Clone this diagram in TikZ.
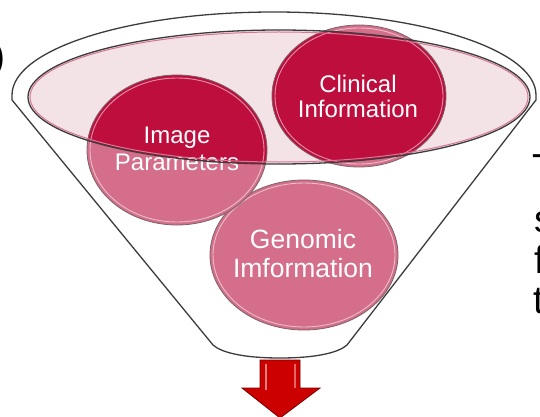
\documentclass[tikz,border=0pt]{standalone}
\usepackage{fontspec}
\setmainfont{Liberation Sans}
\definecolor{funnelline}{RGB}{60,60,60}
\definecolor{crimson}{RGB}{190,14,62}
\definecolor{rosepink}{RGB}{212,110,138}
\definecolor{palepink}{RGB}{243,226,230}
\definecolor{rimpink}{RGB}{214,120,146}
\definecolor{circleedge}{RGB}{120,100,105}
\definecolor{arrowred}{RGB}{205,0,0}
\definecolor{arrowdark}{RGB}{120,0,0}
\begin{document}
\begin{tikzpicture}[x=1pt,y=-1pt,
  rim/.style={draw=funnelline,line width=1.3pt,line join=round},
  bubbleedge/.style={draw=circleedge,line width=0.8pt},
  gloss/.style={draw=white,opacity=0.55,line width=0.9pt},
  bubbletext/.style={align=center,text=white,inner sep=0pt},
  edgetext/.style={inner sep=0pt,text=black,font=\fontsize{39}{41}\selectfont}]
\useasboundingbox (0,0) rectangle (540,417);

% funnel body with its rim
\draw[rim,fill=white] (12,100) -- (213,345)
  .. controls (222,353) and (245,358) .. (280,358)
  .. controls (315,358) and (338,353) .. (347,345)
  -- (536,100) -- (536,95)
  arc[start angle=0,end angle=180,x radius=262pt,y radius=83pt] -- cycle;

% mouth of the funnel
\fill[palepink] (279,97) ellipse[x radius=251pt,y radius=67pt];

% genomic bubble
\fill[rosepink] (304,255) ellipse[x radius=94pt,y radius=75pt];
\draw[bubbleedge] (304,255) ellipse[x radius=94pt,y radius=75pt];
\draw[gloss] (304,255) ellipse[x radius=91pt,y radius=72pt];

% image bubble
\fill[rosepink] (177,150) ellipse[x radius=90pt,y radius=75pt];
\begin{scope}
  \clip (279,97) ellipse[x radius=251pt,y radius=67pt];
  \fill[crimson] (177,150) ellipse[x radius=90pt,y radius=75pt];
\end{scope}
\draw[bubbleedge] (177,150) ellipse[x radius=90pt,y radius=75pt];
\draw[gloss] (177,150) ellipse[x radius=87pt,y radius=72pt];

% clinical bubble
\fill[rosepink] (359,96) ellipse[x radius=87pt,y radius=71pt];
\begin{scope}
  \clip (279,97) ellipse[x radius=251pt,y radius=67pt];
  \fill[crimson] (359,96) ellipse[x radius=87pt,y radius=71pt];
\end{scope}
\draw[bubbleedge] (359,96) ellipse[x radius=87pt,y radius=71pt];
\draw[gloss] (359,96) ellipse[x radius=84pt,y radius=68pt];

% bubble labels
\node[bubbletext,font=\fontsize{24}{25}\selectfont] (clinical) at (358,96) {Clinical\\Information};
\node[bubbletext,font=\fontsize{24}{27}\selectfont] (image) at (177,149) {Image\\Parameters};
\node[bubbletext,font=\fontsize{26.5}{29}\selectfont] (genomic) at (303,254) {Genomic\\Imformation};

% outline of the mouth, drawn over the bubbles
\draw[rimpink,line width=1pt] (279,97) ellipse[x radius=249pt,y radius=65pt];
\draw[rim] (279,97) ellipse[x radius=251pt,y radius=67pt];

% output arrow
\draw[fill=arrowred,draw=arrowdark,line width=0.8pt,line join=miter]
  (260,360) -- (300,360) -- (300,388) -- (320,388) -- (280,418)
  -- (242,388) -- (260,388) -- cycle;
\draw[white,opacity=0.5,line width=1.6pt] (266,364) -- (266,390);
\draw[white,opacity=0.4,line width=1.4pt] (295,364) -- (295,388);

% text running off the edges
\node[edgetext,anchor=base east] (paren) at (6,70) {)};
\node[edgetext,anchor=base west] (lineT) at (532,181) {T};
\node[edgetext,anchor=base west] (lineS) at (534,232) {s};
\node[edgetext,anchor=base west] (lineF) at (534,273) {f};
\node[edgetext,anchor=base west] (lineTt) at (533,313) {t};
\end{tikzpicture}
\end{document}
